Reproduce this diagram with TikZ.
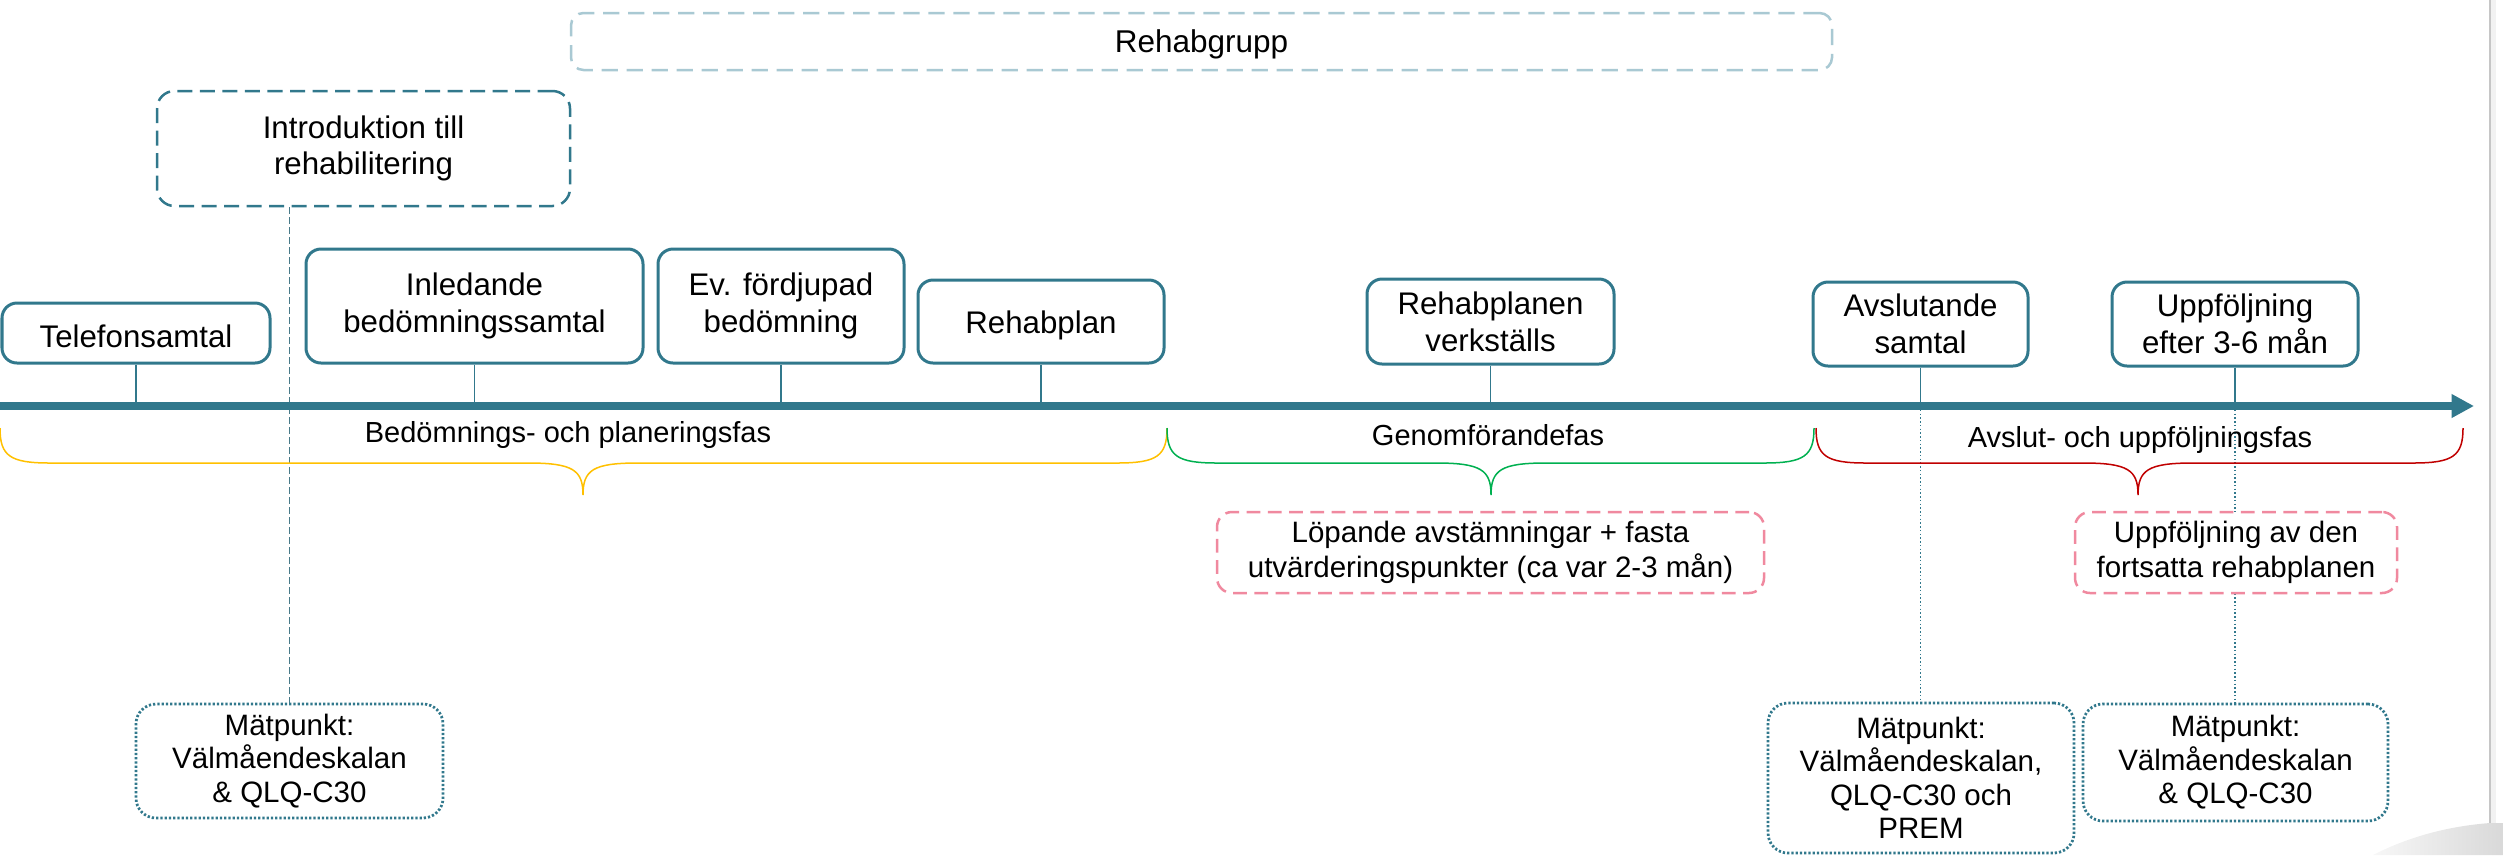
\documentclass[tikz,border=0pt]{standalone}
\usepackage{fontspec}
\setmainfont{Liberation Sans}
\usetikzlibrary{arrows.meta,backgrounds}
\definecolor{tealc}{HTML}{31788C}
\definecolor{lightdash}{HTML}{A9C9D3}
\definecolor{pinkc}{HTML}{F0899F}
\definecolor{ybr}{HTML}{FFC000}
\definecolor{gbr}{HTML}{00B050}
\definecolor{rbr}{HTML}{C00000}
\tikzset{
  wh/.style 2 args={minimum width=#1*0.4pt, minimum height=#2*0.4pt},
  strutted/.style={execute at begin node={\rule{0pt}{#1}}},
  stepbox/.style={draw=tealc, line width=1.2pt, rounded corners=6pt, fill=white, font=\fontsize{12.5}{14.7}\selectfont, strutted=11.8pt},
  introbox/.style={draw=tealc, line width=1pt, dash pattern=on 6pt off 3pt, rounded corners=7pt, fill=white, font=\fontsize{12.5}{14.7}\selectfont, strutted=12.5pt},
  groupbox/.style={draw=lightdash, line width=1pt, dash pattern=on 6.5pt off 3.5pt, rounded corners=5pt, fill=white, font=\fontsize{12.6}{14.7}\selectfont, strutted=11.5pt},
  pinkbox/.style={draw=pinkc, line width=1pt, dash pattern=on 5.5pt off 3pt, rounded corners=6pt, fill=white, font=\fontsize{11.8}{14}\selectfont},
  mbox/.style={draw=tealc, line width=1.1pt, dash pattern=on 0.9pt off 0.8pt, rounded corners=8pt, fill=white, font=\fontsize{11.8}{13.4}\selectfont, strutted=11pt},
  phase/.style={font=\fontsize{11.6}{14}\selectfont},
  tick/.style={draw=tealc, line width=0.5pt},
  dline/.style={draw=tealc, line width=0.5pt, dash pattern=on 0.6pt off 0.9pt},
  introline/.style={draw=tealc!70!gray, line width=0.5pt, dash pattern=on 2.5pt off 1.5pt},
}
\newcommand\mybrace[4]{\draw[#1, line width=0.6pt] (#2,428) .. controls (#2,456) and ({#2+10},463) .. ({#2+50},463) -- ({#3-55},463) .. controls ({#3-10},463) and (#3,470) .. (#3,495) .. controls (#3,470) and ({#3+10},463) .. ({#3+55},463) -- ({#4-50},463) .. controls ({#4-10},463) and (#4,456) .. (#4,428);}
\begin{document}
\begin{tikzpicture}[x=0.4pt,y=-0.4pt,
  every node/.style={inner sep=0pt, align=center, text=black}]
\useasboundingbox (0,0) rectangle (2503,855);

% nodes
\node[groupbox, wh={1261}{57}] (rg) at (1201.5,41.5) {Rehabgrupp};
\node[introbox, wh={413}{115}] (intro) at (363.5,148.5) {Introduktion till\\rehabilitering};
\node[stepbox, wh={268}{60}] (tel) at (136,333) {Telefonsamtal};
\node[stepbox, wh={337}{114}] (inl) at (474.5,306) {Inledande\\bedömningssamtal};
\node[stepbox, wh={246}{114}] (ev) at (781,306) {Ev. fördjupad\\bedömning};
\node[stepbox, wh={246}{83}] (rp) at (1041,321.5) {Rehabplan};
\node[stepbox, wh={247}{85}] (rpv) at (1490.5,321.5) {Rehabplanen\\verkställs};
\node[stepbox, wh={215}{84}] (avs) at (1920.5,324) {Avslutande\\samtal};
\node[stepbox, wh={246}{84}] (upp) at (2235,324) {Uppföljning\\efter 3-6 mån};

\node[phase] (ph1) at (568,435) {Bedömnings- och planeringsfas};
\node[phase] (ph2) at (1488,435) {Genomförandefas};
\node[phase] (ph3) at (2140,440) {Avslut- och uppföljningsfas};

\node[pinkbox, wh={547}{81}] (pk1) at (1490.5,552.5) {Löpande avstämningar + fasta\\utvärderingspunkter (ca var 2-3 mån)};
\node[pinkbox, wh={322}{81}] (pk2) at (2236,552.5) {Uppföljning av den\\fortsatta rehabplanen};

\node[mbox, wh={307}{114}] (m1) at (289.5,761) {Mätpunkt:\\Välmåendeskalan\\\& QLQ-C30};
\node[mbox, wh={306}{150}] (m2) at (1921,778) {Mätpunkt:\\Välmåendeskalan,\\QLQ-C30 och\\PREM};
\node[mbox, wh={305}{117}] (m3) at (2235.5,762.5) {Mätpunkt:\\Välmåendeskalan\\\& QLQ-C30};

\coordinate (axL) at (0,406);
\coordinate (axR) at (2474,406);

\begin{scope}[on background layer]
  % page edge and curl
  \fill[gray!10] (2490.5,0) rectangle (2496,823);
  \draw[gray!45, line width=0.6pt] (2490,0) -- (2490,823);
  \shade[left color=gray!6, right color=gray!30] (2373,855) .. controls (2410,836) and (2450,826) .. (2490,823) -- (2503,823) -- (2503,855) -- cycle;
  % connectors
  \draw[tick] (tel.south) -- (tel.south |- axL);
  \draw[tick] (inl.south) -- (inl.south |- axL);
  \draw[tick] (ev.south) -- (ev.south |- axL);
  \draw[tick] (rp.south) -- (rp.south |- axL);
  \draw[tick] (rpv.south) -- (rpv.south |- axL);
  \draw[tick] (avs.south) -- (avs.south |- axL) coordinate (avsA);
  \draw[dline] (avsA) -- (avs.south |- m2.north);
  \draw[tick] (upp.south) -- (upp.south |- axL) coordinate (uppA);
  \draw[dline] (uppA) -- (upp.south |- m3.north);
  \draw[introline] (intro.south -| m1.north) -- (m1.north);
  % braces
  \mybrace{ybr}{0}{583}{1167}
  \mybrace{gbr}{1167}{1491}{1814}
  \mybrace{rbr}{1816}{2138}{2463}
  % axis
  \draw[tealc, line width=3.2pt, -{Triangle[length=9pt,width=9pt]}] (axL) -- (axR);
\end{scope}
\end{tikzpicture}
\end{document}
